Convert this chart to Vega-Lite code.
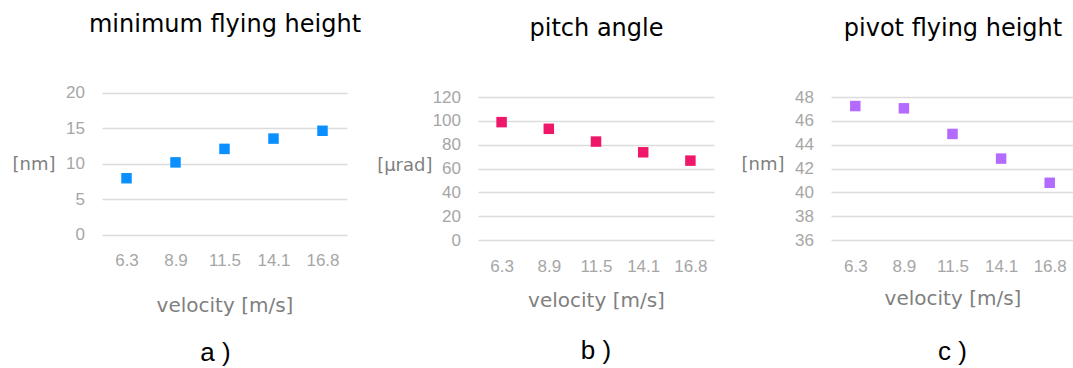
{
  "$schema": "https://vega.github.io/schema/vega-lite/v6.json",
  "padding": {"left": 12, "top": 12, "right": 0, "bottom": 0},
  "datasets": {
    "a": [
      {"v": "6.3", "y": 7.97},
      {"v": "8.9", "y": 10.2},
      {"v": "11.5", "y": 12.1},
      {"v": "14.1", "y": 13.55},
      {"v": "16.8", "y": 14.65}
    ],
    "b": [
      {"v": "6.3", "y": 98.9},
      {"v": "8.9", "y": 93.3},
      {"v": "11.5", "y": 82.6},
      {"v": "14.1", "y": 73.6},
      {"v": "16.8", "y": 66.6}
    ],
    "c": [
      {"v": "6.3", "y": 47.24},
      {"v": "8.9", "y": 47.05},
      {"v": "11.5", "y": 44.9},
      {"v": "14.1", "y": 42.83},
      {"v": "16.8", "y": 40.8}
    ]
  },
  "hconcat": [
    {
      "width": 245,
      "height": 137.8,
      "data": {"name": "a"},
      "title": {"text": "a )", "orient": "bottom", "offset": 24.3, "dx": -9},
      "layer": [
        {
          "mark": {"type": "square", "size": 110, "opacity": 1, "color": "#0a8fff"},
          "encoding": {
            "x": {"field": "v", "type": "ordinal", "sort": ["6.3", "8.9", "11.5", "14.1", "16.8"], "axis": {"title": "velocity [m/s]", "titlePadding": 26.6}},
            "y": {"field": "y", "type": "quantitative", "scale": {"domain": [0, 20], "nice": false, "range": [137.8, -4.2]}, "axis": {"title": "[nm]", "values": [0, 5, 10, 15, 20], "titlePadding": 7, "titleY": 67.5}}
          }
        },
        {
          "mark": {"type": "square", "opacity": 0},
          "encoding": {
            "x": {"field": "v", "type": "ordinal", "sort": ["6.3", "8.9", "11.5", "14.1", "16.8"], "axis": {"orient": "top", "labels": false, "title": "minimum flying height", "titleFontSize": 24, "titleColor": "#000000", "titleBaseline": "bottom", "titlePadding": 60.5}}
          }
        }
      ],
      "resolve": {"axis": {"x": "independent"}}
    },
    {
      "hconcat": [
        {
          "width": 236,
          "height": 143,
          "data": {"name": "b"},
          "title": {"text": "b )", "orient": "bottom", "offset": 27.3},
          "layer": [
            {
              "mark": {"type": "square", "size": 110, "opacity": 1, "color": "#ef1769"},
              "encoding": {
                "x": {"field": "v", "type": "ordinal", "sort": ["6.3", "8.9", "11.5", "14.1", "16.8"], "axis": {"title": "velocity [m/s]", "titlePadding": 16.4}},
                "y": {"field": "y", "type": "quantitative", "scale": {"domain": [0, 120], "nice": false}, "axis": {"title": "[μrad]", "values": [0, 20, 40, 60, 80, 100, 120], "titlePadding": 6, "titleY": 68.5}}
              }
            },
            {
              "mark": {"type": "square", "opacity": 0},
              "encoding": {
                "x": {"field": "v", "type": "ordinal", "sort": ["6.3", "8.9", "11.5", "14.1", "16.8"], "axis": {"orient": "top", "labels": false, "title": "pitch angle", "titleFontSize": 24, "titleColor": "#000000", "titleBaseline": "bottom", "titlePadding": 57}}
              }
            }
          ],
          "resolve": {"axis": {"x": "independent"}}
        },
        {
          "width": 243,
          "height": 143,
          "data": {"name": "c"},
          "title": {"text": "c )", "orient": "bottom", "offset": 30.7},
          "layer": [
            {
              "mark": {"type": "square", "size": 110, "opacity": 1, "color": "#b36bff"},
              "encoding": {
                "x": {"field": "v", "type": "ordinal", "sort": ["6.3", "8.9", "11.5", "14.1", "16.8"], "axis": {"title": "velocity [m/s]", "titlePadding": 14.7}},
                "y": {"field": "y", "type": "quantitative", "scale": {"domain": [36, 48], "nice": false, "zero": false}, "axis": {"title": "[nm]", "values": [36, 38, 40, 42, 44, 46, 48], "titlePadding": 7, "titleY": 67.7}}
              }
            },
            {
              "mark": {"type": "square", "opacity": 0},
              "encoding": {
                "x": {"field": "v", "type": "ordinal", "sort": ["6.3", "8.9", "11.5", "14.1", "16.8"], "axis": {"orient": "top", "labels": false, "title": "pivot flying height", "titleFontSize": 24, "titleColor": "#000000", "titleBaseline": "bottom", "titlePadding": 57}}
              }
            }
          ],
          "resolve": {"axis": {"x": "independent"}}
        }
      ],
      "spacing": 117,
      "bounds": "flush"
    }
  ],
  "spacing": 15,
  "config": {
    "view": {"stroke": null},
    "title": {"font": "Liberation Sans", "fontSize": 26, "fontWeight": "normal", "color": "#000000", "anchor": "middle", "baseline": "top"},
    "axis": {
      "labelFont": "Liberation Sans",
      "titleFont": "DejaVu Sans",
      "titleFontWeight": "normal",
      "domain": false,
      "ticks": false
    },
    "axisX": {
      "grid": false,
      "labelAngle": 0,
      "labelPadding": 18,
      "labelFontSize": 17,
      "labelColor": "#a6a6a6",
      "labelOverlap": false,
      "titleFontSize": 20,
      "titleColor": "#7f7f7f",
      "titleBaseline": "top"
    },
    "axisY": {
      "grid": true,
      "gridColor": "#dcdcdc",
      "gridWidth": 1.5,
      "labelPadding": 17.5,
      "labelFontSize": 17,
      "labelColor": "#a6a6a6",
      "titleAngle": 0,
      "titleAlign": "right",
      "titleBaseline": "middle",
      "titleFontSize": 18,
      "titleColor": "#7f7f7f",
      "minExtent": 40,
      "maxExtent": 40
    }
  }
}
